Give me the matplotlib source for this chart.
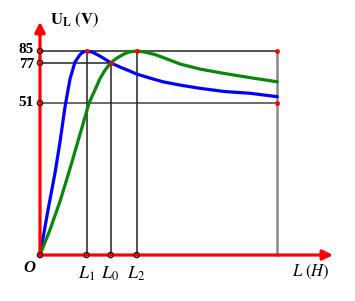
import numpy as np
import matplotlib
matplotlib.use('Agg')
import matplotlib.pyplot as plt

plt.rcParams['mathtext.fontset'] = 'stix'
plt.rcParams['font.family'] = 'Liberation Serif'

# Values (x in arbitrary L units, y in volts)
L1, L0, L2, L_end = 46.5, 70.7, 96.7, 237.3
u_levels = [85, 77, 51]

blue_L = [0, 8, 15, 20, 25, 30, 35, 40, 43, 46.5, 52, 58, 64, 70.7,
          80, 90, 96.7, 110, 123, 140, 160, 185, 210, 237.3]
blue_U = [0, 15.1, 27.5, 37.9, 49.7, 66.5, 77.5, 82.6, 84.3, 85, 84.3, 82.3,
          79.9, 77, 74.2, 71.6, 69.7, 67.1, 64.7, 62.6, 60.5, 58.4, 57.3, 55.1]

green_L = [0, 10, 20, 30, 40, 46.5, 49, 55, 60, 65, 70.7, 77, 84, 90, 96.7,
           105, 115, 123, 140, 160, 185, 210, 237.3]
green_U = [0, 8.5, 18.0, 29.0, 40.5, 48.0, 51.0, 59.5, 66.8, 72.2, 77, 80.2,
           83.0, 84.5, 85, 84.3, 82.6, 80.6, 76.2, 72.9, 70.0, 67.4, 64.7]

# nonlinear (schematic) voltage axis of the drawing
knot_u = np.array([-20, 0, 51, 77, 85, 120])
knot_h = np.array([-59.6, 0, 152, 192.3, 204, 255.2])


def fwd(u):
    return np.interp(u, knot_u, knot_h)


def inv(h):
    return np.interp(h, knot_h, knot_u)


RED = '#ff0000'
fig = plt.figure(figsize=(3.55, 3.01), dpi=100)
ax = fig.add_axes([0, 0, 1, 1])
ax.set_yscale('function', functions=(fwd, inv))
ax.set_xlim(-40, 315)
ax.set_ylim(-15.43, 119.9)
ax.axis('off')

# guide lines
ax.plot([0, L_end], [85, 85], color='#222222', lw=1.1, zorder=2)
ax.plot([0, L0], [77, 77], color='#222222', lw=1.1, zorder=2)
ax.plot([0, L_end], [51, 51], color='#444444', lw=1.1, zorder=2)
for xv, top in [(L1, 85), (L0, 77), (L2, 85)]:
    ax.plot([xv, xv], [0, top], color='#222222', lw=1.1, zorder=2)
ax.plot([L_end, L_end], [0, 85], color='#888888', lw=1.8, zorder=2)

# curves
ax.plot(blue_L, blue_U, color='#0000ff', lw=2.3, zorder=3,
        solid_capstyle='round', solid_joinstyle='round')
ax.plot(green_L, green_U, color='#0a870a', lw=2.3, zorder=3,
        solid_capstyle='round', solid_joinstyle='round')

# axes with arrows
ax.annotate('', xy=(293, 0), xytext=(0, 0),
            arrowprops=dict(arrowstyle='-|>', color=RED, lw=2.3,
                            mutation_scale=15, shrinkA=0, shrinkB=0), zorder=4)
ax.annotate('', xy=(0, 105), xytext=(0, 0),
            arrowprops=dict(arrowstyle='-|>', color=RED, lw=2.3,
                            mutation_scale=15, shrinkA=0, shrinkB=0), zorder=4)

# tick circles and red dots
ax.scatter([0, 0, 0, 0, L1, L0, L2], [0] + u_levels + [0, 0, 0], s=14,
           facecolor='none', edgecolor='#550000', lw=1.0, zorder=5)
ax.scatter([L1, L0, L2, L_end, L_end], [85, 77, 85, 85, 51], s=6,
           color=RED, zorder=5)

W, H = 355.0, 301.0


def put(x, y, s, **kw):
    fig.text(x / W, 1 - y / H, s, **kw)


for lev, yp in zip(u_levels, [49.5, 65, 103]):
    put(34, yp, str(lev), ha='right', va='center', fontsize=11,
        fontweight='bold')
put(50, 20, r'$\mathbf{U_L\ (V)}$', ha='left', va='center', fontsize=12)
put(29, 268, 'O', ha='center', va='center', fontsize=12,
    fontweight='bold', style='italic')
for xp, s in [(87, r'$L_1$'), (110, r'$L_0$'), (136, r'$L_2$')]:
    put(xp, 274, s, ha='center', va='center', fontsize=13)
put(311, 272, r'$L\ (H)$', ha='center', va='center', fontsize=12)

fig.savefig('out.png', dpi=100)
